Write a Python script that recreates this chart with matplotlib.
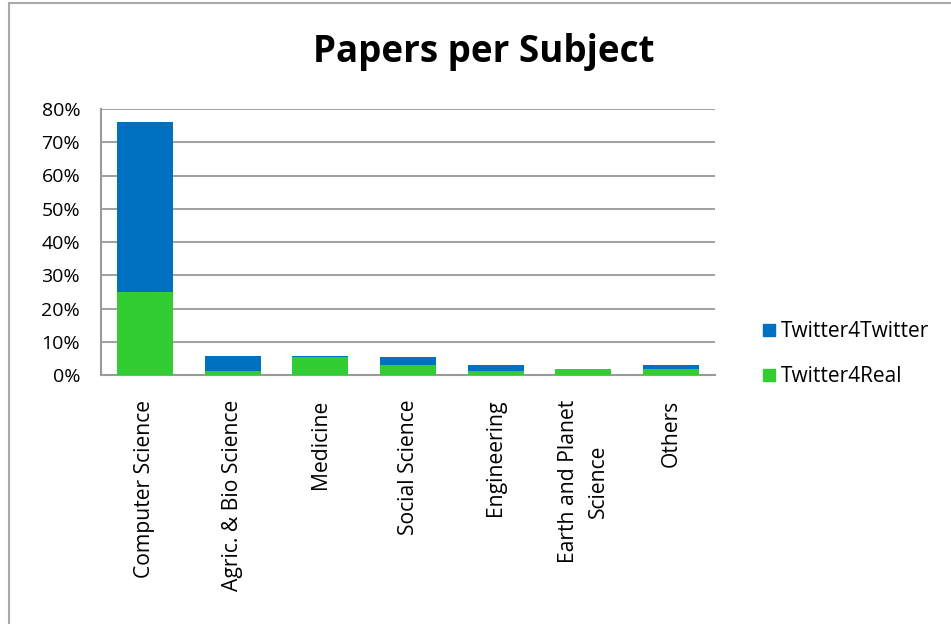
import matplotlib.pyplot as plt
import numpy as np
from matplotlib.lines import Line2D

# dados (percentual de papers)
categorias = ['Computer Science', 'Agric. & Bio Science', 'Medicine', 'Social Science',
              'Engineering', 'Earth and Planet\nScience', 'Others']
twitter4real = [25.0, 1.3, 5.3, 2.9, 1.3, 1.9, 1.8]
twitter4twitter = [51.0, 4.5, 0.5, 2.4, 1.7, 0.0, 1.2]
y_ticks = [0, 10, 20, 30, 40, 50, 60, 70, 80]

azul = '#0070C0'
verde = '#33CC33'
cinza = '#999999'

plt.rcParams['font.family'] = ['Open Sans', 'DejaVu Sans']

W, H = 951, 624
fig = plt.figure(figsize=(W / 100, H / 100), dpi=100)
ax = fig.add_axes([101 / W, 1 - 375 / H, (715 - 101) / W, (375 - 109) / H])

x = np.arange(len(categorias))
ax.bar(x, twitter4real, width=0.64, color=verde, zorder=3, label='Twitter4Real')
ax.bar(x, twitter4twitter, width=0.64, bottom=twitter4real, color=azul, zorder=3,
       label='Twitter4Twitter')

ax.set_xlim(-0.5, len(categorias) - 0.5)
ax.set_ylim(0, 80)
ax.set_yticks(y_ticks)
ax.set_yticklabels([f'{v}%' for v in y_ticks], fontsize=14)
ax.yaxis.grid(True, color=cinza, linewidth=1.3, zorder=0)
ax.tick_params(axis='y', length=0, pad=15)
ax.tick_params(axis='x', length=0)
ax.set_xticks([])

for s in ['top', 'right']:
    ax.spines[s].set_visible(False)
for s in ['left', 'bottom']:
    ax.spines[s].set_color(cinza)
    ax.spines[s].set_linewidth(1.5)

# rotulos das categorias (verticais, alinhados pelo topo)
for i, c in enumerate(categorias):
    ax.text(i, -7.5, c, rotation=90, ha='center', va='top', fontsize=15.2,
            multialignment='center', linespacing=1.55, clip_on=False)

fig.text(484 / W, 1 - 52 / H, 'Papers per Subject', ha='center', va='center',
         fontsize=26.5, fontweight='bold')

# legenda
handles = [Line2D([], [], marker='s', linestyle='', color=azul, markersize=8),
           Line2D([], [], marker='s', linestyle='', color=verde, markersize=8)]
fig.legend(handles, ['Twitter4Twitter', 'Twitter4Real'], loc='center left',
           bbox_to_anchor=(740 / W, 1 - 354 / H), frameon=False, fontsize=15,
           handletextpad=0.05, labelspacing=1.15, handlelength=1.0)

# borda do grafico
fig.add_artist(Line2D([9 / W, 9 / W], [0, 1 - 3 / H], color='#aaaaaa', linewidth=1.5))
fig.add_artist(Line2D([9 / W, 1], [1 - 3 / H, 1 - 3 / H], color='#aaaaaa', linewidth=1.5))

fig.savefig('out.png', dpi=100)
